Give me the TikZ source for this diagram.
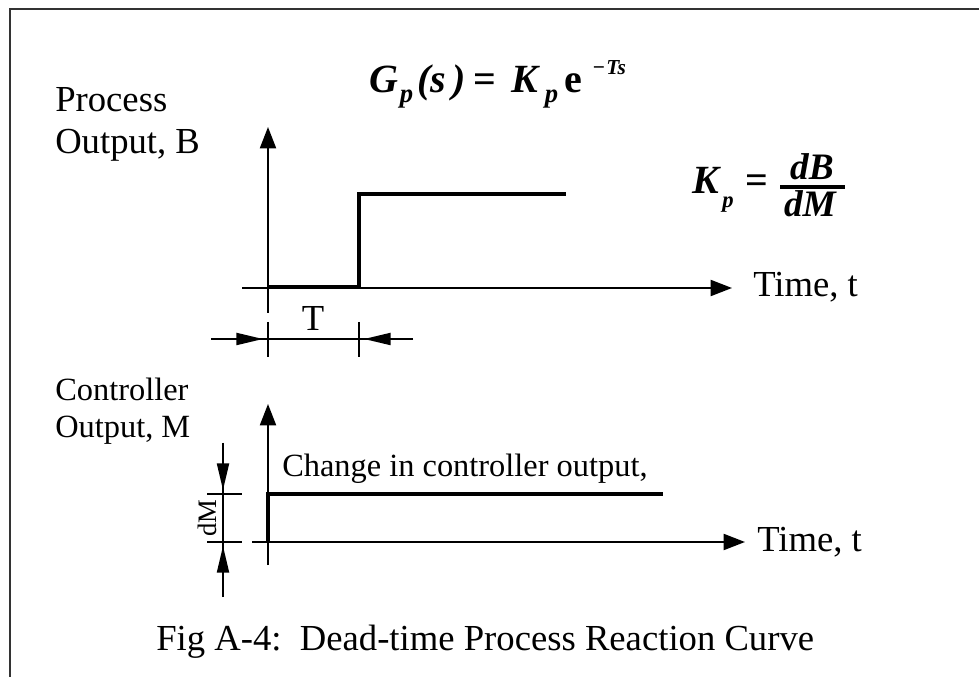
\documentclass[tikz,border=0pt]{standalone}
\usepackage{fontspec}
\setmainfont{Liberation Serif}
\usetikzlibrary{arrows.meta}
\newcommand\fbig{\fontsize{27.5}{30}\selectfont}
\newcommand\fmid{\fontsize{24.3}{27}\selectfont}
\newcommand\fform{\fontsize{30}{32}\selectfont\bfseries\itshape}
\newcommand\ffrac{\fontsize{28}{30}\selectfont\bfseries\itshape}
\newcommand\pc[2]{\makebox[#1pt][l]{#2}}
\newcommand\subp{\raisebox{-7.5pt}{\fontsize{20}{20}\selectfont p}}
\newcommand\subq{\raisebox{-10pt}{\fontsize{17}{17}\selectfont p}}
\tikzset{
  thinline/.style={line width=1.5pt, line cap=butt},
  thickline/.style={line width=3.4pt, line join=miter},
  axisarrow/.style={thinline, -{Triangle[length=16pt,width=12pt]}},
  dimarrow/.style={thinline, -{Triangle[length=20pt,width=9pt]}},
  lbl/.style={inner sep=0pt, anchor=base west},
}
\begin{document}
\begin{tikzpicture}[x=0.75pt,y=-0.75pt]
\useasboundingbox (0,0) rectangle (979,677);
\clip (0,0) rectangle (979,677);
% frame (only left and top edges visible)
\draw[line width=1.6pt, black!80] (10,720) -- (10,9) -- (1020,9);

% ---- formulas ----
\node[lbl, font=\fform] (gp) at (369,93)
  {\pc{23}{G}\pc{13.5}{\subp}\pc{9.75}{(}\pc{16}{s}\pc{16}{)}\pc{28.75}{\upshape=}\pc{24.75}{K}\pc{15}{\subp}\pc{21}{\upshape e}\raisebox{13.5pt}{\fontsize{16}{16}\selectfont{\upshape−}\kern1pt Ts}};
\node[lbl, font=\fform] (kp) at (692,194) {\pc{22.5}{K}\pc{17.5}{\subq}\upshape=};
\coordinate (barL) at (780,187);
\coordinate (barR) at (845,187);
\draw[line width=2.3pt] (barL) -- (barR);
\node[inner sep=0pt, anchor=base, font=\ffrac] (dB) at (812,180) {dB};
\node[inner sep=0pt, anchor=base, font=\ffrac] (dM) at (810,217) {dM};

% ---- top graph ----
\node[lbl, font=\fbig] (proc1) at (55,112) {Process};
\node[lbl, font=\fbig] (proc2) at (55,154) {Output, B};
\coordinate (y1b) at (268,313);
\coordinate (y1t) at (268,127);
\coordinate (x1l) at (242,288);
\coordinate (x1r) at (732,288);
\draw[axisarrow] (y1b) -- (y1t);
\draw[axisarrow] (x1l) -- (x1r);
\node[lbl, font=\fbig] (time1) at (753,297) {Time, t};
\coordinate (s1a) at (268,287);
\coordinate (s1b) at (359,287);
\coordinate (s1c) at (359,194);
\coordinate (s1d) at (566,194);
\draw[thickline] (s1a) -- (s1b) -- (s1c) -- (s1d);
% T dimension
\coordinate (t1a) at (268,322);
\coordinate (t1b) at (268,357);
\coordinate (t2a) at (359,322);
\coordinate (t2b) at (359,357);
\draw[thinline] (t1a) -- (t1b);
\draw[thinline] (t2a) -- (t2b);
\coordinate (dl) at (211,339);
\coordinate (dlt) at (263,339);
\coordinate (dr) at (413,339);
\coordinate (drt) at (364,339);
\draw[thinline] (dl) -- (dr);
\draw[dimarrow] (dl) -- (dlt);
\draw[dimarrow] (dr) -- (drt);
\node[inner sep=0pt, anchor=base, font=\fbig] (Tlbl) at (313,331) {T};

% ---- bottom graph ----
\node[lbl, font=\fmid] (ctl1) at (55,401) {Controller};
\node[lbl, font=\fmid] (ctl2) at (55,438) {Output, M};
\coordinate (y2b) at (268,565);
\coordinate (y2t) at (268,404);
\coordinate (x2l) at (252,542);
\coordinate (x2r) at (745,542);
\draw[axisarrow] (y2b) -- (y2t);
\draw[axisarrow] (x2l) -- (x2r);
\node[lbl, font=\fbig] (time2) at (757,551) {Time, t};
\coordinate (s2a) at (268,542);
\coordinate (s2b) at (268,494);
\coordinate (s2c) at (663,494);
\draw[thickline] (s2a) -- (s2b) -- (s2c);
\node[lbl, font=\fmid] (chg) at (282,476) {Change in controller output,};
% dM dimension
\coordinate (m1a) at (207,494);
\coordinate (m1b) at (242,494);
\coordinate (m2a) at (207,542);
\coordinate (m2b) at (242,542);
\draw[thinline] (m1a) -- (m1b);
\draw[thinline] (m2a) -- (m2b);
\coordinate (vt) at (223,443);
\coordinate (vtt) at (223,490);
\coordinate (vb) at (223,597);
\coordinate (vbt) at (223,546);
\draw[thinline] (vt) -- (vb);
\draw[dimarrow] (vt) -- (vtt);
\draw[dimarrow] (vb) -- (vbt);
\node[inner sep=0pt, rotate=90, font=\fontsize{20}{22}\selectfont] (dMl) at (207,518) {dM};

% caption
\node[lbl, font=\fbig] (cap) at (156,650) {Fig A-4:\ \ Dead-time Process Reaction Curve};
\end{tikzpicture}
\end{document}
